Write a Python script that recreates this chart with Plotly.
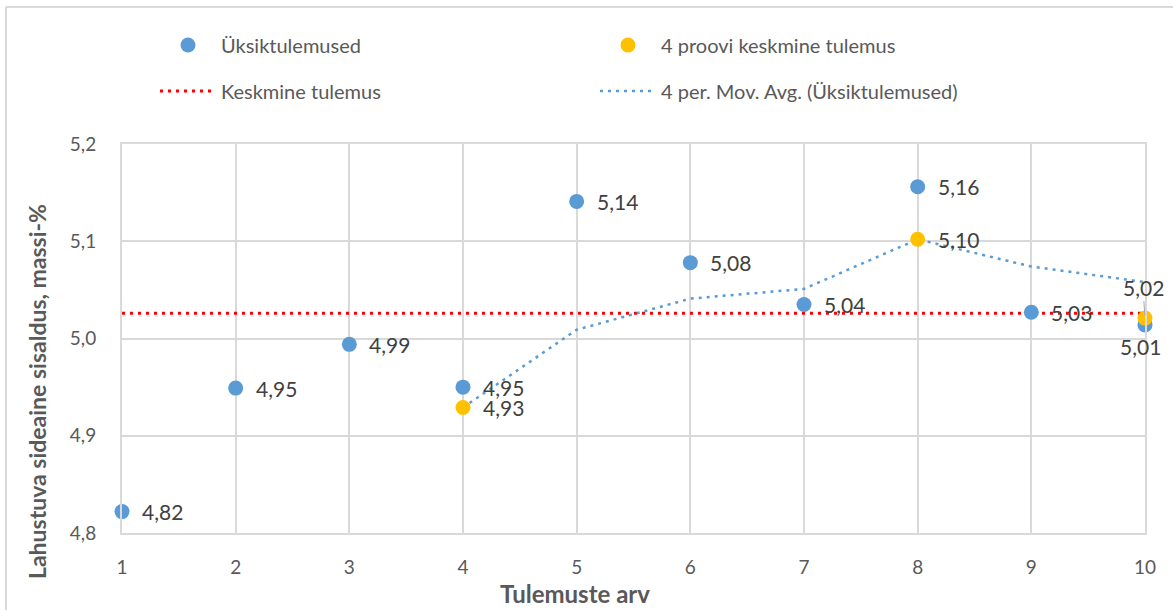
import plotly.graph_objects as go

# ---- data ----
x_vals = [1, 2, 3, 4, 5, 6, 7, 8, 9, 10]
single_results = [4.822, 4.949, 4.994, 4.950, 5.141, 5.078, 5.035, 5.156, 5.027, 5.014]
avg4_x = [4, 8, 10]
avg4_vals = [4.929, 5.102, 5.021]
mean_x = [1, 10]
mean_vals = [5.026, 5.026]
mov_avg_x = [4, 5, 6, 7, 8, 9, 10]
mov_avg_vals = [4.929, 5.009, 5.041, 5.051, 5.102, 5.074, 5.058]

x_ticks = [1, 2, 3, 4, 5, 6, 7, 8, 9, 10]
y_ticks = [4.8, 4.9, 5.0, 5.1, 5.2]

FONT = "Lato"
BLUE = "#5B9BD5"
YELLOW = "#FFC000"
RED = "#FF0000"
GRID = "#D9D9D9"
TXT = "#595959"
LBL = "#404040"

L, R, T, B = 122, 28, 144, 77
W, H = 1173, 610
PW = W - L - R
PH = H - T - B


def px_x(p):
    return (p - L) / PW


def px_y(p):
    return (H - B - p) / PH


def fmt(v):
    return f"{v:.2f}".replace(".", ",")


fig = go.Figure()

fig.add_trace(go.Scatter(
    x=mean_x, y=mean_vals, mode="lines", name="Keskmine tulemus",
    line=dict(color=RED, width=3, dash="3px,5px"),
    legend="legend3", cliponaxis=False,
))
fig.add_trace(go.Scatter(
    x=mov_avg_x, y=mov_avg_vals, mode="lines",
    name="4 per. Mov. Avg. (Üksiktulemused)",
    line=dict(color=BLUE, width=2.5, dash="3px,5px"),
    legend="legend4", cliponaxis=False,
))
fig.add_trace(go.Scatter(
    x=x_vals, y=single_results, mode="markers", name="Üksiktulemused",
    marker=dict(color=BLUE, size=15),
    legend="legend", cliponaxis=False,
))
fig.add_trace(go.Scatter(
    x=avg4_x, y=avg4_vals, mode="markers", name="4 proovi keskmine tulemus",
    marker=dict(color=YELLOW, size=15),
    legend="legend2", cliponaxis=False,
))

annotations = []
label_font = dict(family=FONT, size=21, color=LBL)
for i, (xv, yv) in enumerate(zip(x_vals, single_results)):
    if i == len(x_vals) - 1:
        annotations.append(dict(x=xv, y=yv, text=fmt(yv), showarrow=False,
                                xanchor="center", yanchor="middle", xshift=-5, yshift=-22,
                                font=label_font))
    else:
        annotations.append(dict(x=xv, y=yv, text=fmt(yv), showarrow=False,
                                xanchor="left", yanchor="middle", xshift=18,
                                font=label_font))
for i, (xv, yv) in enumerate(zip(avg4_x, avg4_vals)):
    if i == len(avg4_x) - 1:
        annotations.append(dict(x=xv, y=yv, text=fmt(yv), showarrow=True,
                                ax=-2, ay=-31, arrowhead=0, arrowwidth=1,
                                arrowcolor="#A6A6A6", standoff=3,
                                font=label_font))
    else:
        annotations.append(dict(x=xv, y=yv, text=fmt(yv), showarrow=False,
                                xanchor="left", yanchor="middle", xshift=18,
                                font=label_font))

title_font = dict(family=FONT, size=24, color=TXT)
annotations.append(dict(xref="paper", yref="paper", x=px_x(575), y=px_y(593),
                        text="<b>Tulemuste arv</b>", showarrow=False,
                        xanchor="center", yanchor="middle", font=title_font))
annotations.append(dict(xref="paper", yref="paper", x=px_x(37), y=px_y(392),
                        text="<b>Lahustuva sideaine sisaldus, massi-%</b>", showarrow=False,
                        textangle=-90, xanchor="center", yanchor="middle",
                        font=dict(family=FONT, size=23, color=TXT)))

leg_common = dict(font=dict(family=FONT, size=20, color=TXT), bgcolor="rgba(0,0,0,0)",
                  xanchor="left", yanchor="middle", itemwidth=56)

fig.update_layout(
    width=W, height=H,
    margin=dict(l=L, r=R, t=T, b=B),
    paper_bgcolor="white", plot_bgcolor="white",
    separators=",.",
    showlegend=True,
    font=dict(family=FONT, color=TXT, size=20),
    legend=dict(x=px_x(155), y=px_y(45), **leg_common),
    legend2=dict(x=px_x(595), y=px_y(45), **leg_common),
    legend3=dict(x=px_x(155), y=px_y(91), **leg_common),
    legend4=dict(x=px_x(595), y=px_y(91), **leg_common),
    xaxis=dict(
        range=[1, 10], tickvals=x_ticks, showgrid=True, gridcolor=GRID, gridwidth=2,
        showline=True, mirror=True, linecolor=GRID, linewidth=2, zeroline=False,
        ticks="outside", ticklen=16, tickcolor="rgba(0,0,0,0)",
        tickfont=dict(family=FONT, size=19, color=TXT),
    ),
    yaxis=dict(
        range=[4.8, 5.2], tickvals=y_ticks, tickformat=".1f", showgrid=True, gridcolor=GRID,
        gridwidth=2, showline=True, mirror=True, linecolor=GRID, linewidth=2, zeroline=False,
        ticks="outside", ticklen=20, tickcolor="rgba(0,0,0,0)",
        tickfont=dict(family=FONT, size=19, color=TXT),
    ),
    annotations=annotations,
    shapes=[
        dict(type="line", xref="paper", yref="paper", x0=px_x(6), x1=px_x(1200),
             y0=px_y(7), y1=px_y(7), line=dict(color=GRID, width=2)),
        dict(type="line", xref="paper", yref="paper", x0=px_x(6), x1=px_x(6),
             y0=px_y(7), y1=px_y(640), line=dict(color=GRID, width=2)),
    ],
)

fig.write_html("out.html")
